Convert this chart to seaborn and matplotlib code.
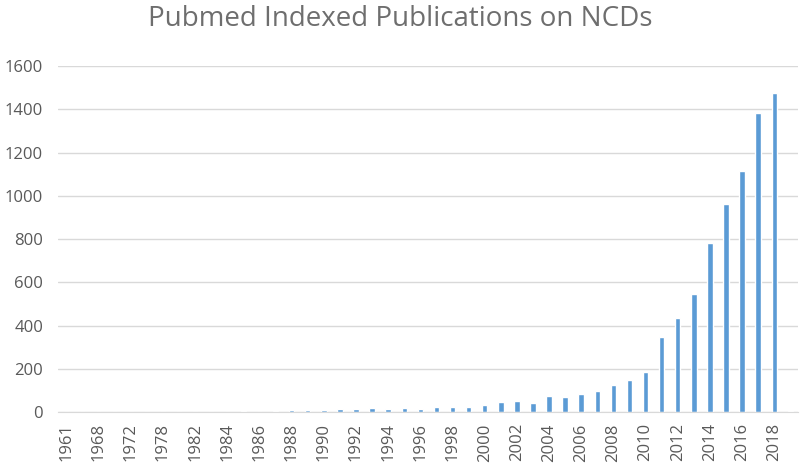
import matplotlib
matplotlib.use("Agg")
import matplotlib.pyplot as plt
import seaborn as sns
import pandas as pd

# years with data (unlabeled years in the early gap are estimated)
years = [1961, 1966, 1968, 1970, 1972, 1975, 1978, 1980, 1982, 1983,
         1984, 1985, 1986, 1987, 1988, 1989, 1990, 1991, 1992, 1993,
         1994, 1995, 1996, 1997, 1998, 1999, 2000, 2001, 2002, 2003,
         2004, 2005, 2006, 2007, 2008, 2009, 2010, 2011, 2012, 2013,
         2014, 2015, 2016, 2017, 2018, 2019]
counts = [1, 1, 1, 1, 1, 1, 1, 1, 1, 1,
          1, 6, 1, 3, 11, 8, 8, 14, 16, 17,
          14, 17, 16, 21, 21, 24, 32, 46, 52, 43,
          75, 69, 83, 95, 123, 146, 184, 346, 433, 547,
          784, 960, 1116, 1384, 1477, 3]
yticks = [0, 200, 400, 600, 800, 1000, 1200, 1400, 1600]

df = pd.DataFrame({"Year": [str(y) for y in years], "Count": counts})

sns.set_style("white")
plt.rcParams["font.family"] = ["Open Sans", "DejaVu Sans"]
grey = "#595959"

fig = plt.figure(figsize=(8, 4.69), dpi=100)
ax = fig.add_axes([0.073, 0.1215, 0.925, 0.7375])
sns.barplot(data=df, x="Year", y="Count", color="#5B9BD5", width=0.34,
            saturation=1, ax=ax)

ax.set_ylim(0, 1600)
ax.set_yticks(yticks)
ax.set_yticklabels([str(t) for t in yticks], fontsize=12, color=grey)
ax.yaxis.grid(True, color="#D9D9D9", linewidth=1)
ax.set_axisbelow(True)

pos = list(range(0, len(years), 2))
ax.set_xticks(pos)
ax.set_xticklabels([df["Year"][i] for i in pos], rotation=90,
                   fontsize=12, color=grey)
ax.set_xlim(-0.5, len(years) - 0.5)
ax.tick_params(axis="y", length=0, pad=11)
ax.tick_params(axis="x", length=0, pad=8)

for s in ["top", "right", "left"]:
    ax.spines[s].set_visible(False)
ax.spines["bottom"].set_color("#D9D9D9")
ax.set_xlabel("")
ax.set_ylabel("")

fig.suptitle("Pubmed Indexed Publications on NCDs", fontsize=20,
             color="#6E6E6E", y=0.99)

fig.savefig("out.png", dpi=100)
